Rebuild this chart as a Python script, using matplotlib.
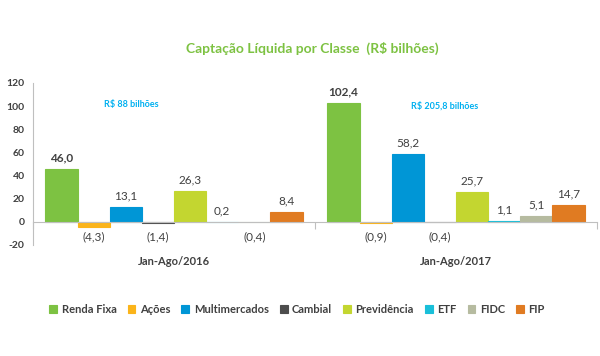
import matplotlib.pyplot as plt
import numpy as np

plt.rcParams['font.family'] = ['Lato', 'DejaVu Sans']

periods = ['Jan-Ago/2016', 'Jan-Ago/2017']
classes = ['Renda Fixa', 'Ações', 'Multimercados', 'Cambial', 'Previdência', 'ETF', 'FIDC', 'FIP']
colors = ['#7DC242', '#FBB41A', '#0096D6', '#4D4D4D', '#C3D630', '#19BFD9', '#B6BBA0', '#E07B22']
vals_2016 = [46.0, -4.3, 13.1, -1.4, 26.3, 0.2, -0.4, 8.4]
vals_2017 = [102.4, -0.9, 58.2, -0.4, 25.7, 1.1, 5.1, 14.7]
totals = ['R$ 88 bilhões', 'R$ 205,8 bilhões']
bold_labels = ['Renda Fixa']

fig = plt.figure(figsize=(6, 3.56), dpi=100)
ax = fig.add_axes([0.055, 0.312, 0.94, 0.455])

data = np.array([vals_2016, vals_2017])
w = 0.114
txt = '#404040'

def fmt(v):
    s = ('%.1f' % abs(v)).replace('.', ',')
    return '(%s)' % s if v < 0 else s

for j, cls in enumerate(classes):
    xs = np.arange(2) + (j - 3.5) * w
    ax.bar(xs, data[:, j], width=w, color=colors[j], label=cls, edgecolor=colors[j], linewidth=0.8)
    for x, v in zip(xs, data[:, j]):
        weight = 'bold' if cls in bold_labels else 'normal'
        if v >= 0:
            ax.annotate(fmt(v), (x, v), xytext=(0, 4), textcoords='offset points',
                        ha='center', va='bottom', fontsize=8.5, color=txt, fontweight=weight)
        else:
            ax.annotate(fmt(v), (x, 0), xytext=(0, -7), textcoords='offset points',
                        ha='center', va='top', fontsize=8.5, color=txt, fontweight=weight)

for i, p in enumerate(periods):
    ax.text(i, -34, p, ha='center', va='center', fontsize=8, fontweight='bold', color=txt)

ax.text(-0.15, 101, totals[0], ha='center', va='center', fontsize=6.5, fontweight='bold', color='#00B0F0')
ax.text(0.96, 100.5, totals[1], ha='center', va='center', fontsize=6.5, fontweight='bold', color='#00B0F0')

ax.set_xlim(-0.5, 1.5)
ax.set_ylim(-20, 120)
ax.set_yticks(range(-20, 121, 20))
ax.set_yticklabels([str(t) for t in range(-20, 121, 20)], fontsize=7.5, fontweight='bold', color=txt)
ax.tick_params(axis='y', length=0, pad=6)
ax.set_xticks([-0.5, 0.5, 1.5])
ax.set_xticklabels([])
ax.tick_params(axis='x', length=5, color='#BFBFBF', direction='out')

for s in ['top', 'right']:
    ax.spines[s].set_visible(False)
ax.spines['left'].set_color('#BFBFBF')
ax.spines['bottom'].set_position(('data', 0))
ax.spines['bottom'].set_color('#BFBFBF')

fig.text(0.52, 0.865, 'Captação Líquida por Classe  (R$ bilhões)', ha='center', va='center',
         fontsize=10, fontweight='bold', color='#7DC242')

leg = fig.legend(loc='center', bbox_to_anchor=(0.495, 0.13), ncol=8, frameon=False,
                 handlelength=0.7, handleheight=0.7, handletextpad=0.4, columnspacing=1.0,
                 prop={'size': 8, 'weight': 'bold'})
for t in leg.get_texts():
    t.set_color(txt)

fig.savefig('out.png', dpi=100)
